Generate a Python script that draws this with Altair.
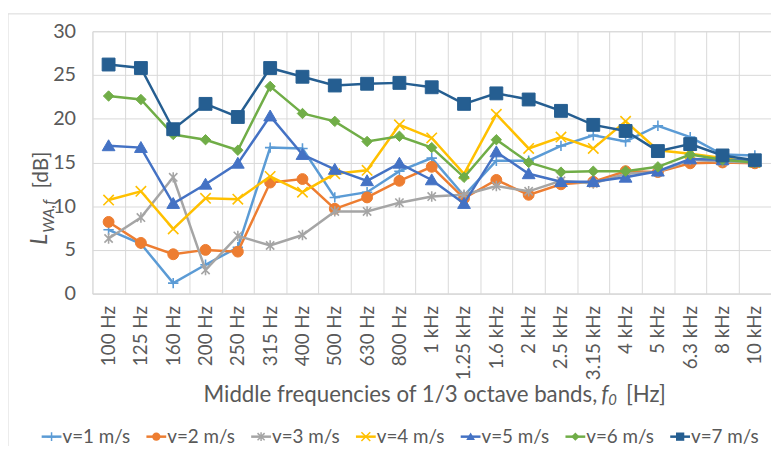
import altair as alt
import pandas as pd

freqs = ["100 Hz", "125 Hz", "160 Hz", "200 Hz", "250 Hz", "315 Hz", "400 Hz",
         "500 Hz", "630 Hz", "800 Hz", "1 kHz", "1.25 kHz", "1.6 kHz", "2 kHz",
         "2.5 kHz", "3.15 kHz", "4 kHz", "5 kHz", "6.3 kHz", "8 kHz", "10 kHz"]

series = ["v=1 m/s", "v=2 m/s", "v=3 m/s", "v=4 m/s", "v=5 m/s", "v=6 m/s", "v=7 m/s"]

v1 = [7.3, 5.7, 1.2, 3.3, 5.3, 16.7, 16.6, 11.0, 11.6, 14.0, 15.5, 11.2, 15.2, 15.2, 16.9, 18.1, 17.4, 19.2, 17.9, 15.9, 15.8]
v2 = [8.2, 5.8, 4.5, 5.0, 4.8, 12.7, 13.1, 9.7, 11.0, 12.9, 14.5, 10.9, 13.0, 11.3, 12.5, 12.8, 14.0, 13.9, 14.9, 15.0, 14.9]
v3 = [6.3, 8.7, 13.3, 2.7, 6.6, 5.5, 6.7, 9.4, 9.4, 10.4, 11.1, 11.3, 12.3, 11.7, 12.9, 12.6, 13.7, 13.9, 15.3, 15.1, 15.0]
v4 = [10.7, 11.7, 7.4, 10.9, 10.8, 13.4, 11.6, 13.7, 14.1, 19.3, 17.8, 13.7, 20.5, 16.6, 17.9, 16.6, 19.7, 16.4, 16.0, 15.5, 15.0]
v5 = [16.9, 16.7, 10.3, 12.5, 14.9, 20.3, 15.9, 14.2, 12.9, 14.9, 13.0, 10.3, 16.2, 13.7, 12.8, 12.8, 13.3, 14.0, 15.4, 15.3, 15.2]
v6 = [22.6, 22.2, 18.2, 17.6, 16.4, 23.7, 20.6, 19.7, 17.4, 18.0, 16.7, 13.3, 17.6, 15.0, 13.9, 14.0, 14.0, 14.5, 15.9, 15.3, 15.0]
v7 = [26.2, 25.8, 18.8, 21.7, 20.2, 25.8, 24.8, 23.8, 24.0, 24.1, 23.6, 21.7, 22.9, 22.2, 20.9, 19.3, 18.6, 16.3, 17.1, 15.8, 15.25]
values = [v1, v2, v3, v4, v5, v6, v7]

colors = ["#5B9BD5", "#ED7D31", "#A5A5A5", "#FFC000", "#4472C4", "#70AD47", "#255E91"]
P_PLUS = "M-1,0H1M0,-1V1"
P_CIRC = "M1,0A1,1 0 1,1 -1,0A1,1 0 1,1 1,0Z"
P_STAR = "M-0.8,-0.8L0.8,0.8M-0.8,0.8L0.8,-0.8M0,-1V1"
P_X = "M-1,-1L1,1M-1,1L1,-1"
P_TRI = "M0,-1L1.05,0.8L-1.05,0.8Z"
P_DIA = "M0,-1L1,0L0,1L-1,0Z"
P_SQ = "M-1,-1H1V1H-1Z"
shapes = [P_PLUS, P_CIRC, P_STAR, P_X, P_TRI, P_DIA, P_SQ]
filled = [False, True, False, False, True, True, True]
sizes = [110, 121, 110, 110, 150, 110, 169]

FONT = "Lato"
TXT = "#595959"
GRID = "#d9d9d9"

W, H = 685.5, 265

x_enc = alt.X("freq:N", sort=freqs,
              scale=alt.Scale(type="band", domain=freqs, paddingInner=0, paddingOuter=0),
              axis=alt.Axis(title=None, labelAngle=-90, labelAlign="right", labelBaseline="middle",
                            labelPadding=12, ticks=False, tickBand="extent", grid=True,
                            gridColor=GRID, domainColor=GRID, labelFontSize=19,
                            labelColor=TXT, labelFont=FONT))
y_enc = alt.Y("val:Q", scale=alt.Scale(domain=[0, 30], nice=False, zero=True),
              axis=alt.Axis(title=None, values=[0, 5, 10, 15, 20, 25, 30], ticks=False,
                            domain=False, gridColor=GRID, labelPadding=17,
                            labelFontSize=20, labelColor=TXT, labelFont=FONT))

layers = []
for i, s in enumerate(series):
    df = pd.DataFrame({"freq": freqs, "val": values[i], "series": s})
    base = alt.Chart(df).encode(x=x_enc, y=y_enc)
    line = base.mark_line(color=colors[i], strokeWidth=2.5)
    if filled[i]:
        pts = base.mark_point(shape=shapes[i], size=sizes[i], filled=True, fill=colors[i],
                              stroke=colors[i], strokeWidth=1, opacity=1)
    else:
        pts = base.mark_point(shape=shapes[i], size=sizes[i], filled=False, stroke=colors[i],
                              strokeWidth=1.6, opacity=1)
    layers += [line, pts]
main = alt.layer(*layers)

# legend
leg_df = pd.DataFrame({"series": series, "kind": ["o" if not f else "f" for f in filled]})
leg_x = alt.X("series:N", sort=series,
              scale=alt.Scale(type="point", domain=series, padding=0, range=[-41.3, 593.7]),
              axis=None)
col = alt.Color("series:N", scale=alt.Scale(domain=series, range=colors), legend=None)
shp = alt.Shape("series:N", scale=alt.Scale(domain=series, range=shapes), legend=None)
LEG_Y = 409.5
leg_base = alt.Chart(leg_df).encode(x=leg_x, y=alt.value(LEG_Y))
leg_rule = leg_base.mark_rule(strokeWidth=2.5, xOffset=-10, x2Offset=10).encode(
    x2=alt.X2("series:N"), color=col)
leg_f = leg_base.transform_filter(alt.datum.kind == "f").mark_point(
    size=70, filled=True, opacity=1, strokeWidth=1).encode(color=col, shape=shp)
leg_o = leg_base.transform_filter(alt.datum.kind == "o").mark_point(
    size=80, filled=False, opacity=1, strokeWidth=1.5).encode(color=col, shape=shp)
leg_t = leg_base.mark_text(align="left", baseline="middle", dx=11, fontSize=19,
                           font=FONT, color=TXT).encode(text="series:N")
legend = alt.layer(leg_rule, leg_f, leg_o, leg_t)

# axis titles (mixed styles)
def txt(s, x, y, size, style="normal", angle=0, align="left", baseline="alphabetic"):
    return alt.Chart(pd.DataFrame({"t": [s]})).mark_text(
        align=align, baseline=baseline, fontSize=size, font=FONT, fontStyle=style,
        angle=angle, color=TXT).encode(text="t:N", x=alt.value(x), y=alt.value(y))

titles = [
    txt("Middle frequencies of 1/3 octave bands,", 510, 374, 22.5, align="right"),
    txt("f", 514, 374, 22.5, style="italic"),
    txt("0", 521, 378, 15, style="italic"),
    txt("[Hz]", 539, 374, 22.5),
    txt("L", -46.3, 215.7, 23, style="italic", angle=270),
    txt("WA,f", -38.5, 203.5, 16, style="italic", angle=270),
    txt("[dB]", -45.3, 158.7, 21, angle=270),
]

frame = alt.Chart(pd.DataFrame({"a": [0]})).mark_rect(
    fill=None, stroke=GRID, strokeWidth=1).encode(
    x=alt.value(-85.3), x2=alt.value(900), y=alt.value(-17.6), y2=alt.value(600))

chart = alt.layer(frame, main, legend, *titles).resolve_scale(x="independent").properties(
    width=W, height=H,
    autosize=alt.AutoSizeParams(type="none"),
    padding={"left": 85.3, "top": 21.3, "right": 0, "bottom": 151.5},
).configure_view(stroke=GRID)

chart.save("out.html", embed_options={"renderer": "svg", "actions": False})
